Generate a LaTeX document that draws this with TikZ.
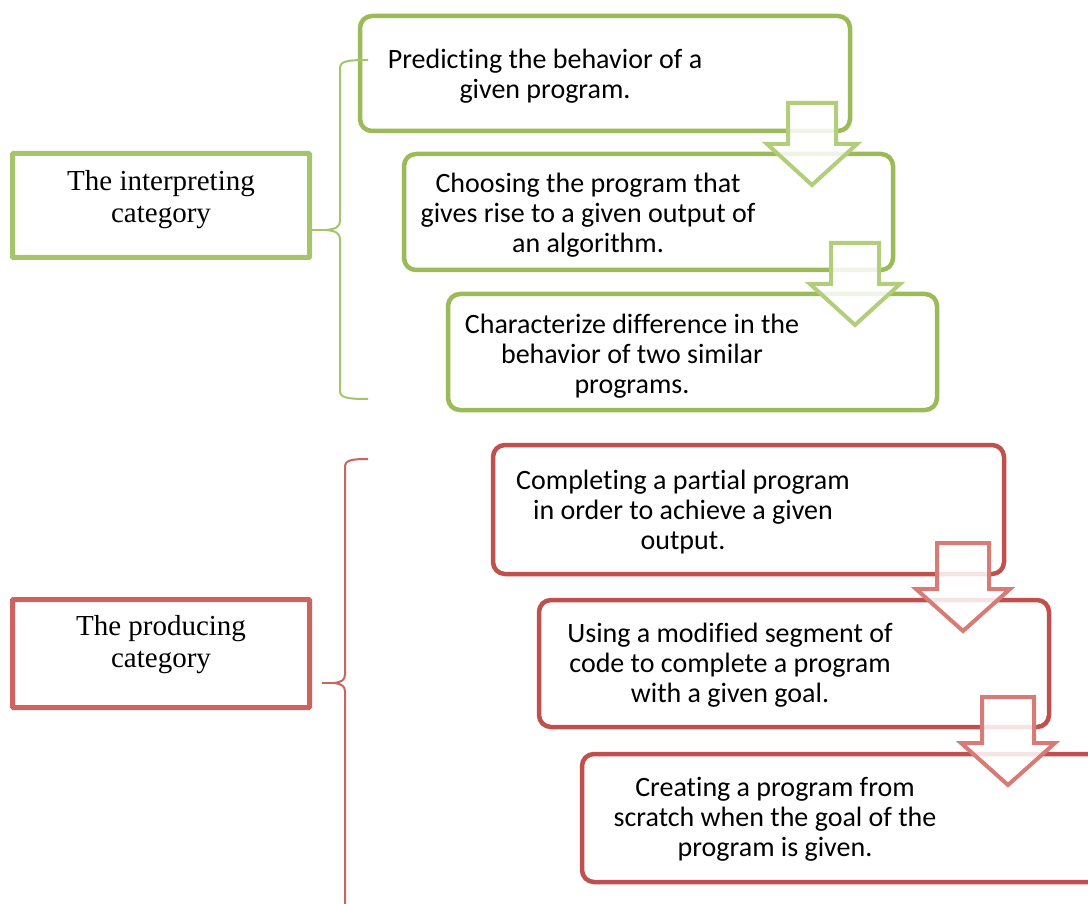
\documentclass[tikz,border=0pt]{standalone}
\usepackage{fontspec}
\setmainfont{Liberation Serif}
\newfontfamily\calib[Ligatures=NoCommon]{Carlito}
\definecolor{gline}{HTML}{9BBB59}
\definecolor{gleft}{HTML}{A6C46A}
\definecolor{garr}{HTML}{B2CE7A}
\definecolor{rline}{HTML}{C0504D}
\definecolor{rleft}{HTML}{CD635E}
\definecolor{rarr}{HTML}{D87A76}
\tikzset{
  gbox/.style={draw=gline, line width=4.5pt, rounded corners=12pt, fill=white, inner sep=0pt},
  rbox/.style={draw=rline, line width=4.5pt, rounded corners=12pt, fill=white, inner sep=0pt},
  gcat/.style={draw=gleft, line width=5pt, rounded corners=1pt, fill=white, inner sep=0pt},
  rcat/.style={draw=rleft, line width=5pt, rounded corners=1pt, fill=white, inner sep=0pt},
  itemtext/.style={font=\calib\fontsize{28}{30}\selectfont, align=center, inner sep=0pt},
  cattext/.style={font=\fontsize{29}{32}\selectfont, align=center, inner sep=0pt},
  gbrace/.style={draw=gleft, line width=2pt},
  rbrace/.style={draw=rleft, line width=2pt},
  pics/gdown/.style={code={
    \filldraw[draw=garr, fill=white, fill opacity=0.85, line width=4pt, line join=miter]
      (-24,0) -- (24,0) -- (24,41) -- (45,41) -- (0,82) -- (-45,41) -- (-24,41) -- cycle;}},
  pics/rdown/.style={code={
    \filldraw[draw=rarr, fill=white, fill opacity=0.85, line width=4pt, line join=miter]
      (-26,0) -- (26,0) -- (26,46) -- (47,46) -- (0,88) -- (-47,46) -- (-26,46) -- cycle;}},
}
\begin{document}
\begin{tikzpicture}[x=1pt,y=-1pt]
\clip (0,0) rectangle (1088,904);
\fill[white] (0,0) rectangle (1088,904);

% left category boxes
\node[gcat, minimum width=297pt, minimum height=104pt] (gc) at (161,205.5) {};
\node[cattext] (gct) at (161,200) {The interpreting\\category};
\node[rcat, minimum width=297pt, minimum height=108pt] (rc) at (161,653.5) {};
\node[cattext] (rct) at (161,645) {The producing\\category};

% green item boxes
\node[gbox, minimum width=490pt, minimum height=115pt] (g1) at (605,73.5) {};
\node[gbox, minimum width=489pt, minimum height=116pt] (g2) at (648.5,212) {};
\node[gbox, minimum width=489pt, minimum height=116pt] (g3) at (692.5,352) {};
\node[itemtext] (g1t) at (545,76) {Predicting the behavior of a\\given program.};
\node[itemtext] (g2t) at (588,215.5) {Choosing the program that\\gives rise to a given output of\\an algorithm.};
\node[itemtext] (g3t) at (632,356) {Characterize difference in the\\behavior of two similar\\programs.};

% red item boxes
\node[rbox, minimum width=511pt, minimum height=129pt] (r1) at (748.5,509.5) {};
\node[rbox, minimum width=510pt, minimum height=127pt] (r2) at (794,663.5) {};
\node[rbox, minimum width=540pt, minimum height=128pt] (r3) at (852,818) {};
\node[itemtext] (r1t) at (683,512) {Completing a partial program\\in order to achieve a given\\output.};
\node[itemtext] (r2t) at (730,665) {Using a modified segment of\\code to complete a program\\with a given goal.};
\node[itemtext] (r3t) at (775,819.5) {Creating a program from\\scratch when the goal of the\\program is given.};

% block arrows between boxes
\pic at (812,103) {gdown};
\pic at (855,243) {gdown};
\pic at (963,543) {rdown};
\pic at (1008,697) {rdown};

% braces
\coordinate (gtop) at (368,60);
\coordinate (gbot) at (368,399);
\coordinate (rtop) at (368,459);
\coordinate (rbot) at (345,910);
\draw[gbrace] (gtop) .. controls (348,60) and (340,61) .. (340,68)
  -- (340,220) .. controls (340,227) and (336,229) .. (326,230)
  .. controls (336,231) and (340,233) .. (340,240)
  -- (340,391) .. controls (340,398) and (348,399) .. (gbot);
\draw[gbrace] (gc.east |- 0,230) -- (330,230);
\draw[rbrace] (rtop) .. controls (352,459) and (345,460) .. (345,467)
  -- (345,674) .. controls (345,680) and (342,682) .. (334,683)
  .. controls (342,684) and (345,686) .. (345,692) -- (rbot);
\draw[rbrace] (322,683) -- (338,683);
\end{tikzpicture}
\end{document}
